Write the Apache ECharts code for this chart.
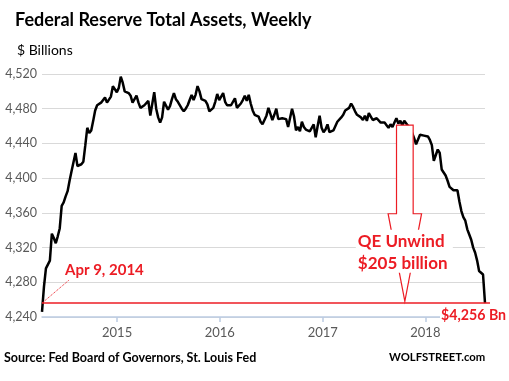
<!DOCTYPE html>
<html><head><meta charset="utf-8">
<script src="https://cdn.jsdelivr.net/npm/echarts@6/dist/echarts.min.js"></script>
<style>html,body{margin:0;padding:0;background:#fff}#c{width:509px;height:381px}</style>
</head><body><div id="c"></div>
<script>
// ---- data ----
const startDate = Date.UTC(2014, 3, 9);   // Apr 9, 2014 (first weekly point)
const endDate = Date.UTC(2018, 7, 1);     // Aug 1, 2018 (last weekly point)
const assets = [
4246,4275,4296,4298,4305,4336,4331,4325,4333,4342,
4368,4372,4379,4385,4397,4408,4407,4429,4414,4414,
4416,4419,4438,4458,4452,4455,4466,4478,4484,4486,
4487,4488,4493,4487,4487,4494,4506,4508,4499,4504,
4517,4510,4500,4500,4498,
4495,4487,4489,4495,4487,4481,4482,4484,4486,4489,
4472,4472,4499,4480,4470,4464,4470,4488,4490,4479,
4483,4491,4498,4491,4488,4488,4480,4477,4480,4484,
4490,4496,4490,4496,4506,4500,4491,4493,4489,4485,
4477,4478,4481,4488,4497,4490,4494,4498,4488,4484,
4483,4484,4485,4492,4481,4482,4486,4490,4495,
4489,4496,4486,4478,4473,4475,4471,4465,4462,4464,
4472,4481,4474,4467,4473,4480,4468,4466,4469,4467,
4468,4459,4461,4480,4471,4455,4459,4454,4465,4459,
4456,4454,4454,4456,4462,4447,4460,4472,4458,4453,
4456,4462,4453,4454,4455,4456,4465,4465,4470,4473,
4478,4476,4481,4486,4482,4477,4473,4474,4470,4467,
4472,4466,4475,4471,4467,4468,4469,4467,4464,4462,
4464,4461,4458,4462,4459,4464,4469,4463,4466,4461,
4466,4463,4460,4457,4452,4446,4439,4438,4450,4450,
4449,4447,4448,4444,4438,4420,4422,4433,4429,4410,
4408,4403,4397,4390,4388,4386,4386,4386,4373,4362,
4355,4351,4341,4335,4329,4320,4314,4305,4293,4292,
4289,4256
];
const yMin = 4240, yMax = 4520, yStep = 40;
const yearTicks = [Date.UTC(2015,0,1), Date.UTC(2016,0,1), Date.UTC(2017,0,1), Date.UTC(2018,0,1)];
const currentLevel = 4256;
const unwindTop = 4461;
const unwindCenter = Date.UTC(2017, 9, 20);
const startLabel = 'Apr 9, 2014';
const endLabel = '$4,256 Bn';
const unwindLabel1 = 'QE Unwind';
const unwindLabel2 = '$205 billion';

const WEEK = 7 * 864e5, DAY = 864e5;
const seriesData = assets.map((v, i) => [startDate + i * WEEK, v]);

const RED = '#ec1c24';
const FONT = 'Lato';
const chart = echarts.init(document.getElementById('c'), null, {renderer: 'canvas'});
chart.setOption({
  animation: false,
  backgroundColor: '#fff',
  grid: {left: 42, right: 24, top: 74, bottom: 64, containLabel: false},
  xAxis: {
    type: 'value', min: startDate, max: endDate, scale: true,
    axisLine: {show: true, lineStyle: {color: '#bccbe2', width: 1.5}},
    axisTick: {show: true, length: 5, customValues: yearTicks, lineStyle: {color: '#bccbe2', width: 1.5}},
    axisLabel: {customValues: yearTicks, color: '#595959', fontFamily: FONT, fontSize: 13, margin: 9,
      hideOverlap: false,
      formatter: v => String(new Date(v).getUTCFullYear())},
    splitLine: {show: false}
  },
  yAxis: {
    type: 'value', min: yMin, max: yMax, interval: yStep,
    axisLine: {show: false}, axisTick: {show: false},
    axisLabel: {color: '#595959', fontFamily: FONT, fontSize: 12.5, margin: 5,
      formatter: v => v.toLocaleString('en-US')},
    splitLine: {lineStyle: {color: '#d9d9d9', width: 1}}
  },
  series: [{
    type: 'line', data: seriesData, showSymbol: false, symbol: 'none',
    lineStyle: {color: '#000', width: 2.5}, z: 3
  }]
});

function px(x, y) { return chart.convertToPixel({gridIndex: 0}, [x, y]); }
const p0 = px(startDate, currentLevel);
const pEnd = px(endDate, currentLevel);
const hw = 29.6 * DAY, fw = 59.5 * DAY;
const a1 = px(unwindCenter - hw, unwindTop);
const a2 = px(unwindCenter + hw, unwindTop);
const a3 = px(unwindCenter + hw, 4359);
const a4 = px(unwindCenter + fw, 4359);
const a5 = px(unwindCenter, 4258);
const a6 = px(unwindCenter - fw, 4359);
const a7 = px(unwindCenter - hw, 4359);
const mid = px(unwindCenter, 4300);

chart.setOption({
  graphic: [
    {type: 'text', left: 15, top: 11, z: 10, style: {text: 'Federal Reserve Total Assets, Weekly', fill: '#000', font: 'bold 18px Lato'}},
    {type: 'text', left: 17, top: 43, z: 10, style: {text: '$ Billions', fill: '#000', font: '14px Lato'}},
    {type: 'line', z: 20, shape: {x1: p0[0], y1: p0[1], x2: pEnd[0] + 5, y2: pEnd[1]}, style: {stroke: RED, lineWidth: 1.5}},
    {type: 'line', z: 20, shape: {x1: p0[0], y1: p0[1], x2: p0[0] + 27, y2: p0[1] - 23}, style: {stroke: RED, lineWidth: 1, lineDash: [1, 1]}},
    {type: 'text', z: 21, x: p0[0] + 23, y: p0[1] - 33, style: {text: startLabel, fill: RED, font: 'bold 15px Lato', verticalAlign: 'middle'}},
    {type: 'polygon', z: 20, shape: {points: [a1, a2, a3, a4, a5, a6, a7]}, style: {fill: '#fff', stroke: RED, lineWidth: 1.2}},
    {type: 'rect', z: 21, shape: {x: mid[0] - 49, y: a3[1] + 16, width: 97, height: 43}, style: {fill: '#fff'}},
    {type: 'text', z: 22, x: mid[0] - 47, y: a3[1] + 28, style: {text: unwindLabel1, fill: RED, font: 'bold 17px Lato', verticalAlign: 'middle'}},
    {type: 'text', z: 22, x: mid[0] - 47, y: a3[1] + 50, style: {text: unwindLabel2, fill: RED, font: 'bold 17px Lato', verticalAlign: 'middle'}},
    {type: 'text', z: 22, x: pEnd[0] - 45, y: pEnd[1] + 12, style: {text: endLabel, fill: RED, font: 'bold 14.2px Lato', verticalAlign: 'middle', backgroundColor: '#fff', padding: [0, 2, 0, 1]}},
    {type: 'text', left: 4, top: 351, z: 10, style: {text: 'Source: Fed Board of Governors, St. Louis Fed', fill: '#000', font: 'bold 12.5px Lato'}},
    {type: 'text', left: 389, top: 352, z: 10, style: {text: 'WOLFSTREET.com', fill: '#000', font: 'bold 11.3px Lato'}}
  ]
});
</script></body></html>
